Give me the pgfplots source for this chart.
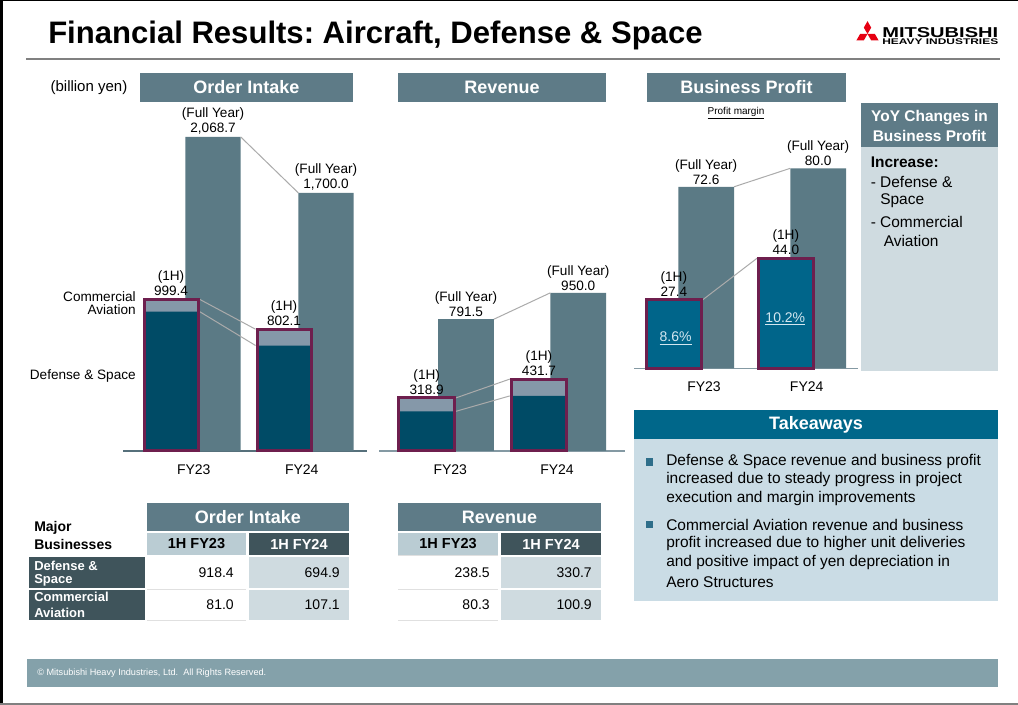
\documentclass[border=0pt]{standalone}
\usepackage{fontspec}
\setmainfont{Liberation Sans}
\usepackage{graphicx}
\usepackage{pgfplots}
\pgfplotsset{compat=1.18}
\frenchspacing

\definecolor{headC}{HTML}{5E7B87}
\definecolor{fullC}{HTML}{5B7A85}
\definecolor{darkC}{HTML}{004B66}
\definecolor{lightC}{HTML}{8598A9}
\definecolor{purpC}{HTML}{6E1F4E}
\definecolor{profC}{HTML}{00658A}
\definecolor{lineC}{HTML}{ABABAB}
\definecolor{baseD}{HTML}{56707B}
\definecolor{baseL}{HTML}{8499A3}
\definecolor{yoyC}{HTML}{CFDBE0}
\definecolor{takeHC}{HTML}{00678A}
\definecolor{takeBC}{HTML}{CADCE5}
\definecolor{tblLC}{HTML}{BACCD3}
\definecolor{tblDC}{HTML}{3F545B}
\definecolor{cellC}{HTML}{CFDBE0}
\definecolor{footC}{HTML}{84A1AA}
\definecolor{bulC}{HTML}{2E6E8A}
\definecolor{pctC}{HTML}{D4E7F0}
\definecolor{mhiRed}{HTML}{E60012}

\newcommand\lab{\fontsize{10.2}{11.25}\selectfont}
\newcommand\body{\fontsize{11.6}{14}\selectfont}

\pgfplotsset{
  slide/.style={
    anchor=south west,
    axis x line*=bottom, axis y line=none,
    ymin=0, ytick=\empty,
    major tick length=0pt,
    /pgf/number format/assume math mode=true,
    xticklabel style={font=\fontsize{10.5}{12}\selectfont, yshift=-6.5pt},
    clip=false,
    every node near coord/.append style={font=\lab, align=center, inner sep=1.5pt, text=black},
  },
  fy/.style={nodes near coords={(Full Year)\\\pgfmathprintnumber[fixed,fixed zerofill,precision=1,1000 sep={,},assume math mode=true]{\pgfplotspointmeta}},
    every node near coord/.append style={xshift=#1}},
  hy/.style={nodes near coords={(1H)\\\pgfmathprintnumber[fixed,fixed zerofill,precision=1,1000 sep={,},assume math mode=true]{\pgfplotspointmeta}},
    every node near coord/.append style={xshift=#1}},
}

\begin{document}
\begin{tikzpicture}[x=0.75pt,y=-0.75pt]
\path[use as bounding box] (0,0) rectangle (1018,705);
\fill[white] (0,0) rectangle (1018,705);
% frame
\fill[black] (0,0) rectangle (2.5,705);
\fill[black] (0,0) rectangle (1018,1.5);
\fill[gray] (0,703) rectangle (1018,705);

% anchor points for the axes
\coordinate (oiO) at (123,451);
\coordinate (rvO) at (379,451);
\coordinate (bpO) at (634,368.3);

% title
\node[anchor=base west, inner sep=0, font=\fontsize{23.3}{28}\selectfont\bfseries] at (48,43.3) {Financial Results: Aircraft, Defense \& Space};
\draw[color=black!50, line width=1.1pt] (26,59) -- (1000,59);

% logo
\fill[mhiRed] (867.5,34) -- (871.2,27.6) -- (867.5,21.2) -- (863.8,27.6) -- cycle;
\fill[mhiRed] (867.5,34) -- (874.9,34) -- (878.6,40.4) -- (871.2,40.4) -- cycle;
\fill[mhiRed] (867.5,34) -- (860.1,34) -- (856.4,40.4) -- (863.8,40.4) -- cycle;
\node[anchor=south west, inner sep=0] at (882,37.5) {\resizebox{87pt}{7.5pt}{\bfseries MITSUBISHI}};
\node[anchor=south west, inner sep=0] at (882,45) {\resizebox{87pt}{4.3pt}{\bfseries HEAVY INDUSTRIES}};

% header boxes
\fill[headC] (140,73) rectangle (353,102);
\node[white, font=\fontsize{13.5}{16}\selectfont\bfseries] at (246.5,87.5) {Order Intake};
\fill[headC] (398,73) rectangle (606,102);
\node[white, font=\fontsize{13.5}{16}\selectfont\bfseries] at (502,87.5) {Revenue};
\fill[headC] (647,73) rectangle (846,102);
\node[white, font=\fontsize{13.5}{16}\selectfont\bfseries] at (746.5,87.5) {Business Profit};
\node[anchor=east, font=\fontsize{11.25}{13}\selectfont] at (132,87.5) {(billion yen)};
\node[font=\fontsize{7.5}{9}\selectfont] at (736,113) {\underline{Profit margin}};

% chart side labels
\node[anchor=east, font=\lab, inner sep=0] at (136,296.7) {Commercial};
\node[anchor=east, font=\lab, inner sep=0] at (136,309.3) {Aviation};
\node[anchor=east, font=\lab, inner sep=0] at (136,376) {Defense \& Space};

% ---------- Order Intake ----------
\begin{axis}[slide, at={(oiO)}, x=84.75pt, y=0.11384pt,
  xmin=-0.611, xmax=1.549, ymax=2312,
  xtick={0.015,0.971}, xticklabels={FY23,FY24},
  x axis line style={draw=baseD, line width=1.1pt}]
\addplot[ybar, bar width=41.5pt, bar shift=15.75pt, fill=fullC, draw=none, fy=15.75pt]
  coordinates {(0,2068.7) (1,1700.0)};
\addplot[draw=lineC, line width=0.75pt] coordinates {(0.431,2068.7) (0.941,1700.0)};
\addplot[draw=lineC, line width=0.75pt] coordinates {(0.0664,999.4) (0.562,802.1)};
\addplot[draw=lineC, line width=0.75pt] coordinates {(0.0664,918.4) (0.562,694.9)};
\addplot[ybar, bar width=40.5pt, bar shift=-15.75pt, fill=lightC, draw=none]
  coordinates {(0,999.4) (1,802.1)};
\addplot[ybar, bar width=40.5pt, bar shift=-15.75pt, fill=darkC, draw=none]
  coordinates {(0,918.4) (1,694.9)};
\addplot[ybar, bar width=40.5pt, bar shift=-15.75pt, fill=none, draw=purpC, line width=2.25pt, hy=-15.75pt]
  coordinates {(0,999.4) (1,802.1)};
\end{axis}

% ---------- Revenue ----------
\begin{axis}[slide, at={(rvO)}, x=84.19pt, y=0.12488pt,
  xmin=-0.6, xmax=1.592, ymax=2108,
  xtick={0.035,0.986}, xticklabels={FY23,FY24},
  x axis line style={draw=baseL, line width=1.1pt}]
\addplot[ybar, bar width=41.85pt, bar shift=14.74pt, fill=fullC, draw=none, fy=14.74pt]
  coordinates {(0,791.5) (1,950.0)};
\addplot[draw=lineC, line width=0.75pt] coordinates {(0.4236,791.5) (0.9265,950.0)};
\addplot[draw=lineC, line width=0.75pt] coordinates {(0.0855,318.9) (0.5644,431.7)};
\addplot[draw=lineC, line width=0.75pt] coordinates {(0.0855,238.5) (0.5644,330.7)};
\addplot[ybar, bar width=41.6pt, bar shift=-14.74pt, fill=lightC, draw=none]
  coordinates {(0,318.9) (1,431.7)};
\addplot[ybar, bar width=41.6pt, bar shift=-14.74pt, fill=darkC, draw=none]
  coordinates {(0,238.5) (1,330.7)};
\addplot[ybar, bar width=41.6pt, bar shift=-14.74pt, fill=none, draw=purpC, line width=2.25pt, hy=-14.74pt]
  coordinates {(0,318.9) (1,431.7)};
\end{axis}

% ---------- Business Profit ----------
\begin{axis}[slide, at={(bpO)}, x=84pt, y=1.875pt,
  xmin=-0.5, xmax=1.5, ymax=105,
  xtick={0.125,1.042}, xticklabels={FY23,FY24},
  x axis line style={draw=baseL, line width=1.1pt}]
\addplot[ybar, bar width=41.8pt, bar shift=12.1pt, fill=fullC, draw=none, fy=12.1pt]
  coordinates {(0,72.6) (1,80.0)};
\addplot[draw=lineC, line width=0.75pt] coordinates {(0.393,72.6) (0.8955,80.0)};
\addplot[draw=lineC, line width=0.75pt] coordinates {(0.1134,27.4) (0.598,44.0)};
\addplot[ybar, bar width=41pt, bar shift=-12.1pt, fill=profC, draw=purpC, line width=2.25pt, hy=-12.1pt]
  coordinates {(0,27.4) (1,44.0)};
\node[font=\fontsize{10.5}{12}\selectfont, text=pctC] at (axis cs:-0.128,12) {\underline{8.6\%}};
\node[font=\fontsize{10.5}{12}\selectfont, text=pctC] at (axis cs:0.851,19.7) {\underline{10.2\%}};
\end{axis}

% YoY box
\fill[headC] (861,103) rectangle (998,147.5);
\fill[yoyC] (861,147.5) rectangle (998,371);
\node[white, font=\fontsize{11.6}{14}\selectfont\bfseries] at (929.5,117.3) {YoY Changes in};
\node[white, font=\fontsize{11.6}{14}\selectfont\bfseries] at (929.5,136) {Business Profit};
\node[anchor=west, inner sep=0, font=\body\bfseries] at (870.5,162.7) {Increase:};
\node[anchor=west, inner sep=0, font=\body] at (870.5,182.3) {- Defense \&};
\node[anchor=west, inner sep=0, font=\body] at (880,201) {Space};
\node[anchor=west, inner sep=0, font=\body] at (870.5,221.7) {- Commercial};
\node[anchor=west, inner sep=0, font=\body] at (883.5,240.7) {Aviation};

% Takeaways
\fill[takeHC] (634,410) rectangle (998,439.5);
\fill[takeBC] (634,439.5) rectangle (998,601);
\node[white, font=\fontsize{13.5}{16}\selectfont\bfseries] at (816,425) {Takeaways};
\fill[bulC] (645.5,458.3) rectangle (653.3,466);
\fill[bulC] (645.5,520.7) rectangle (653.3,528.4);
\node[anchor=west, inner sep=0, font=\body] at (666,462) {Defense \& Space revenue and business profit};
\node[anchor=west, inner sep=0, font=\body] at (666,480) {increased due to steady progress in project};
\node[anchor=west, inner sep=0, font=\body] at (666,499) {execution and margin improvements};
\node[anchor=west, inner sep=0, font=\body] at (666,525) {Commercial Aviation revenue and business};
\node[anchor=west, inner sep=0, font=\body] at (666,544) {profit increased due to higher unit deliveries};
\node[anchor=west, inner sep=0, font=\body] at (666,563) {and positive impact of yen depreciation in};
\node[anchor=west, inner sep=0, font=\body] at (666,581.7) {Aero Structures};

% Tables
\node[anchor=west, inner sep=0, font=\fontsize{10.5}{12}\selectfont\bfseries] at (34,528) {Major};
\node[anchor=west, inner sep=0, font=\fontsize{10.5}{12}\selectfont\bfseries] at (34,544.5) {Businesses};
\fill[tblDC] (29,557) rectangle (145,588.5);
\fill[tblDC] (29,590.5) rectangle (145,620);
\node[anchor=west, inner sep=0, white, font=\fontsize{9.75}{11}\selectfont\bfseries] at (34,566) {Defense \&};
\node[anchor=west, inner sep=0, white, font=\fontsize{9.75}{11}\selectfont\bfseries] at (34,580.5) {Space};
\node[anchor=west, inner sep=0, white, font=\fontsize{9.75}{11}\selectfont\bfseries] at (34,597) {Commercial};
\node[anchor=west, inner sep=0, white, font=\fontsize{9.75}{11}\selectfont\bfseries] at (34,612.7) {Aviation};
% order intake table
\fill[headC] (147,503) rectangle (349,531);
\node[white, font=\fontsize{13.5}{16}\selectfont\bfseries] at (248,517) {Order Intake};
\fill[tblLC] (147,533) rectangle (246,555);
\node[font=\fontsize{10.9}{13}\selectfont\bfseries] at (196.5,544) {1H FY23};
\fill[tblDC] (249,533) rectangle (349,555);
\node[white, font=\fontsize{10.9}{13}\selectfont\bfseries] at (299,544) {1H FY24};
\fill[cellC] (249,557) rectangle (349,588.5);
\fill[cellC] (249,590.5) rectangle (349,620);
\draw[black!12, line width=0.75pt] (147,589.5) -- (246,589.5);
\draw[black!12, line width=0.75pt] (147,621) -- (246,621);
% revenue table
\fill[headC] (398,503) rectangle (601,531);
\node[white, font=\fontsize{13.5}{16}\selectfont\bfseries] at (499.5,517) {Revenue};
\fill[tblLC] (398,533) rectangle (498,555);
\node[font=\fontsize{10.9}{13}\selectfont\bfseries] at (448,544) {1H FY23};
\fill[tblDC] (501,533) rectangle (601,555);
\node[white, font=\fontsize{10.9}{13}\selectfont\bfseries] at (551,544) {1H FY24};
\fill[cellC] (501,557) rectangle (601,588.5);
\fill[cellC] (501,590.5) rectangle (601,620);
\draw[black!12, line width=0.75pt] (398,556) -- (498,556);
\draw[black!12, line width=0.75pt] (398,589.5) -- (498,589.5);
\draw[black!12, line width=0.75pt] (398,621) -- (498,621);
% values
\node[anchor=east, inner sep=0, font=\fontsize{10.5}{12}\selectfont] at (234,572.5) {918.4};
\node[anchor=east, inner sep=0, font=\fontsize{10.5}{12}\selectfont] at (340,572.5) {694.9};
\node[anchor=east, inner sep=0, font=\fontsize{10.5}{12}\selectfont] at (234,605) {81.0};
\node[anchor=east, inner sep=0, font=\fontsize{10.5}{12}\selectfont] at (340,605) {107.1};
\node[anchor=east, inner sep=0, font=\fontsize{10.5}{12}\selectfont] at (490,572.5) {238.5};
\node[anchor=east, inner sep=0, font=\fontsize{10.5}{12}\selectfont] at (592,572.5) {330.7};
\node[anchor=east, inner sep=0, font=\fontsize{10.5}{12}\selectfont] at (490,605) {80.3};
\node[anchor=east, inner sep=0, font=\fontsize{10.5}{12}\selectfont] at (592,605) {100.9};

% footer
\fill[footC] (27,659) rectangle (998,687);
\node[anchor=west, inner sep=0, white] at (37,673) {\resizebox{171.75pt}{!}{\fontsize{7}{8}\selectfont \textcopyright{} Mitsubishi Heavy Industries, Ltd.\ \ All Rights Reserved.}};
\end{tikzpicture}
\end{document}
